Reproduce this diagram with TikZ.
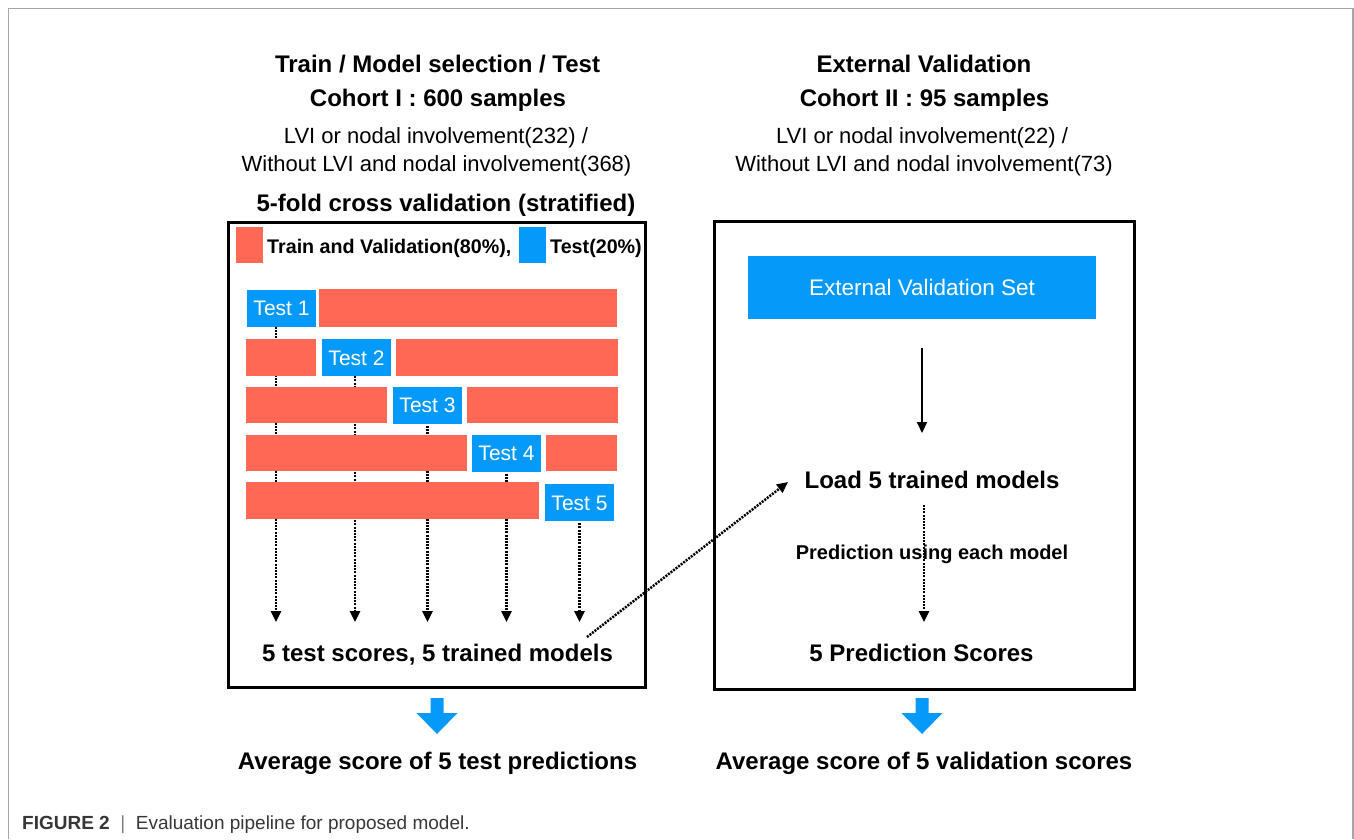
\documentclass[tikz,border=0pt]{standalone}
\usepackage{fontspec}
\setmainfont{Liberation Sans}
\usetikzlibrary{arrows.meta}
\definecolor{trainred}{RGB}{255,104,85}
\definecolor{testblue}{RGB}{5,154,250}
\definecolor{framegray}{RGB}{166,166,166}
\definecolor{captiongray}{RGB}{55,55,55}

\begin{document}
\begin{tikzpicture}[x=1pt,y=-1pt,
  txt/.style={inner sep=0pt, text depth=0pt},
  head/.style={txt, text height=17.2pt, font=\fontsize{24}{28}\selectfont\bfseries},
  sub/.style={txt, text height=15.75pt, font=\fontsize{22}{26}\selectfont},
  legendtxt/.style={txt, anchor=west, text height=14.1pt, font=\fontsize{19.7}{22}\selectfont\bfseries},
  smallhead/.style={txt, text height=14.3pt, font=\fontsize{20}{23}\selectfont\bfseries},
  panel/.style={draw=black, line width=3pt},
  testbox/.style={fill=testblue, text=white, minimum width=69pt, minimum height=37pt,
    inner sep=0pt, text height=15pt, text depth=0pt, font=\fontsize{21}{24}\selectfont},
  swatch/.style={minimum width=27pt, minimum height=36pt, inner sep=0pt},
  tip/.style={-{Triangle[width=10pt,length=11pt]}},
  dotarrow/.style={tip, line width=2.5pt, dash pattern=on 2pt off 1.2pt},
  solidarrow/.style={tip, line width=2pt},
]
\useasboundingbox (0,0) rectangle (1354,839);

% page frame
\draw[framegray, line width=1.5pt] (8.5,839) -- (8.5,8.5) -- (1353,8.5) -- (1353,839);

% ---------- left column: cohort I ----------
\node[head] (lh1) at (437.5,64) {Train / Model selection / Test};
\node[head] (lh2) at (438,98) {Cohort I : 600 samples};
\node[sub]  (lh3) at (436,136) {LVI or nodal involvement(232) /};
\node[sub]  (lh4) at (436.5,164) {Without LVI and nodal involvement(368)};
\node[head] (lh5) at (446,203) {5-fold cross validation (stratified)};

\draw[panel] (228,222.5) rectangle (645,687);

% legend
\node[swatch, fill=trainred] (sw1) at (249.5,245) {};
\node[legendtxt] (lg1) at (267,246) {Train and Validation(80\%),};
\node[swatch, fill=testblue] (sw2) at (532.5,245) {};
\node[legendtxt] (lg2) at (550,246) {Test(20\%)};

% fold arrows ending above the result line
\coordinate (tipline) at (0,622);
\node[testbox] (t1) at (281.5,308) {Test 1};
\node[testbox] (t2) at (356.5,357.5) {Test 2};
\node[testbox] (t3) at (427.5,405) {Test 3};
\node[testbox] (t4) at (506.5,453) {Test 4};
\node[testbox] (t5) at (579.5,502.5) {Test 5};

\draw[dotarrow] ([xshift=-5.5]t1.south) -- ([xshift=-5.5]t1.south |- tipline);
\draw[dotarrow] ([xshift=-1.5]t2.south) -- ([xshift=-1.5]t2.south |- tipline);
\draw[dotarrow] ([yshift=-2]t3.south) -- (t3.south |- tipline);
\draw[dotarrow] ([yshift=-2]t4.south) -- (t4.south |- tipline);
\draw[dotarrow] ([yshift=-2]t5.south) -- (t5.south |- tipline);

% training folds
\fill[trainred] (319,289) rectangle (617,327);
\fill[trainred] (246,339) rectangle (316,376);
\fill[trainred] (396,339) rectangle (618,376);
\fill[trainred] (246,387) rectangle (387,423);
\fill[trainred] (467,387) rectangle (618,423);
\fill[trainred] (246,435) rectangle (467,471);
\fill[trainred] (546,435) rectangle (617,471);
\fill[trainred] (246,482) rectangle (539,519);

% test folds on top
\node[testbox] at (t1) {Test 1};
\node[testbox] at (t2) {Test 2};
\node[testbox] at (t3) {Test 3};
\node[testbox] at (t4) {Test 4};
\node[testbox] at (t5) {Test 5};

\node[head] (scores) at (437.5,653) {5 test scores, 5 trained models};

% ---------- right column: cohort II ----------
\node[head] (rh1) at (924,64) {External Validation};
\node[head] (rh2) at (924.5,98) {Cohort II : 95 samples};
\node[sub]  (rh3) at (922,136) {LVI or nodal involvement(22) /};
\node[sub]  (rh4) at (924,164) {Without LVI and nodal involvement(73)};

\draw[panel] (714,221.5) rectangle (1134,689);

\node[fill=testblue, text=white, minimum width=348pt, minimum height=63pt, inner sep=0pt,
  text height=16.1pt, text depth=0pt, font=\fontsize{22.5}{26}\selectfont]
  (evset) at (922,287.5) {External Validation Set};

\node[head] (load) at (932,480) {Load 5 trained models};
\node[smallhead] (pred) at (932,552) {Prediction using each model};
\node[head] (pscores) at (921.5,653) {5 Prediction Scores};

\coordinate (evfrom) at (922,348);
\coordinate (evto) at (922,433);
\draw[solidarrow] (evfrom) -- (evto);

\coordinate (predfrom) at (924,505);
\coordinate (predto) at (924,622);
\draw[dotarrow] (predfrom) -- (predto);

% trained models carried over to the external set
\coordinate (carryfrom) at (587,637);
\coordinate (carryto) at (788,482);
\draw[dotarrow] (carryfrom) -- (carryto);

% ---------- averaging arrows and summaries ----------
\foreach \cx in {437,922}{
  \fill[testblue] (\cx-6.5,698) -- (\cx+6.5,698) -- (\cx+6.5,713) -- (\cx+20.5,713)
    -- (\cx,734) -- (\cx-20.5,713) -- (\cx-6.5,713) -- cycle;
}
\node[head] (lavg) at (437.5,761) {Average score of 5 test predictions};
\node[head] (ravg) at (924,761) {Average score of 5 validation scores};

% caption
\node[txt, anchor=west, text height=13.6pt, text=captiongray, font=\fontsize{19}{22}\selectfont] (caption) at (22,823)
  {\textbf{FIGURE 2}\ \ {\color{gray}|}\ \ Evaluation pipeline for proposed model.};
\end{tikzpicture}
\end{document}
